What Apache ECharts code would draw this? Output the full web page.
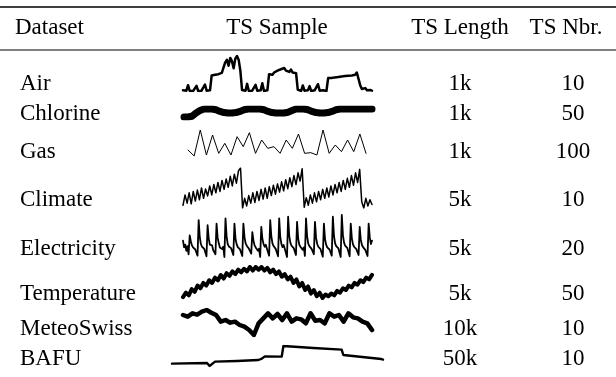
<!DOCTYPE html>
<html>
<head>
<meta charset="utf-8">
<script src="https://cdn.jsdelivr.net/npm/echarts@6/dist/echarts.min.js"></script>
<style>
  html, body { margin: 0; padding: 0; background: #fff; }
  #main { width: 616px; height: 377px; }
</style>
</head>
<body>
<div id="main"></div>
<script>
// table columns
var headers = ['Dataset', 'TS Sample', 'TS Length', 'TS Nbr.'];
var datasets = ['Air', 'Chlorine', 'Gas', 'Climate', 'Electricity', 'Temperature', 'MeteoSwiss', 'BAFU'];
var tsLength = ['1k', '1k', '1k', '5k', '5k', '5k', '10k', '50k'];
var tsNbr = ['10', '50', '100', '10', '20', '50', '10', '10'];

// sample series
var air = [2, 0, 1, 18, 0, 2, 0, 1, 16, 0, 2, 1, 0, 20, 1, 0, 2,
  48, 44, 50, 46, 52, 53, 56, 72, 88, 96, 78, 102, 92, 70, 100, 108, 96, 62,
  3, 0, 1, 22, 0, 2, 1, 0, 19, 1, 0, 2, 24, 0, 1, 2,
  52, 56, 50, 57, 56, 63, 58, 67, 62, 71, 63, 69, 59, 66, 57, 63, 55,
  4, 1, 0, 17, 1, 0, 2, 15, 0, 1, 2, 0, 21, 1, 0, 2, 1, 0,
  40, 44, 40, 46, 42, 47, 43, 48, 45, 50, 46, 51, 47, 52, 48, 54, 50, 57, 52,
  18, 6, 3, 9, 2, 5, 3, 1];
var chlorine = [0, 0, 2, 10, 16, 20, 20, 20, 18, 14, 11, 10, 10, 11, 14, 18, 20, 20, 20, 20, 18, 14, 11, 10,
  10, 10, 12, 16, 20, 20, 20, 18, 14, 11, 10, 10, 11, 14, 18, 20, 20, 20, 20, 20, 20, 20, 20, 20];
var gas = [20, 2, 80, 5, 65, 10, 40, 5, 60, 30, 72, 10, 50, 25, 30, 10, 50, 25, 68, 10, 12, 5, 80, 10, 35, 15, 50, 15, 68, 10];
var climate = [10, 40, 16, 46, 14, 50, 22, 54, 26, 60, 30, 57, 37, 66, 40, 70, 46, 76, 50, 82, 56, 86, 62, 94, 66, 100, 74, 110, 118,
  2, 30,
  8, 38, 16, 46, 18, 50, 24, 56, 28, 60, 30, 64, 38, 68, 42, 72, 48, 78, 52, 84, 58, 90, 64, 96, 70, 104, 80, 116,
  4, 32,
  10, 40, 16, 46, 20, 50, 26, 56, 30, 60, 34, 66, 40, 70, 46, 76, 50, 82, 56, 88, 62, 96, 68, 104, 76, 114,
  20, 2, 30, 8, 26, 12];
var electricity = [60, 40, 48, 30, 44, 20,
  75, 58, 46, 40, 44, 34, 38, 16,
  120, 70, 50, 42, 47, 36, 40, 14,
  105, 66, 48, 44, 46, 32, 36, 20,
  110, 68, 52, 40, 45, 35, 42, 12,
  125, 72, 50, 43, 48, 38, 40, 18,
  110, 64, 49, 41, 46, 34, 39, 15,
  110, 70, 52, 45, 47, 36, 41, 22,
  85, 60, 46, 40, 44, 30, 36, 12,
  100, 66, 50, 42, 48, 37, 42, 16,
  120, 72, 52, 44, 46, 35, 40, 14,
  125, 70, 50, 41, 47, 36, 38, 12,
  130, 74, 54, 45, 49, 38, 42, 18,
  115, 66, 48, 42, 45, 33, 40, 15,
  125, 72, 51, 44, 48, 36, 41, 20,
  115, 68, 50, 42, 46, 35, 39, 13,
  110, 64, 48, 40, 45, 34, 38, 16,
  130, 74, 52, 44, 48, 37, 42, 12,
  135, 76, 54, 45, 49, 38, 40, 14,
  110, 66, 49, 42, 46, 35, 39, 18,
  100, 62, 47, 41, 45, 33, 37, 15,
  110, 70, 50, 60];
var temperature = [1, 6, 3, 10, 7, 14, 11, 17, 14, 20, 17, 23, 20, 26, 22, 28, 25, 30, 27, 32, 29, 33, 30, 35, 31, 35,
  32, 35, 31, 34, 29, 32, 27, 30, 24, 27, 21, 24, 17, 21, 13, 17, 9, 13, 5, 9, 2, 6, 0, 4,
  2, 5, 3, 8, 6, 11, 9, 14, 12, 17, 15, 20, 18, 23, 21, 26];
var meteoSwiss = [65, 60, 70, 66, 75, 80, 72, 65, 45, 50, 42, 45, 35, 30, 20, 5, 40, 55, 70, 55, 68,
  50, 70, 45, 55, 52, 40, 70, 48, 50, 40, 70, 60, 65, 45, 70, 58, 55, 45, 40, 20];
// BAFU: [thousands of samples, value]
var bafu = [[0, 10], [8.3, 12], [8.9, 3], [10.2, 16], [15.4, 18], [20.5, 21], [21.3, 25], [22, 32], [26, 31],
  [26.4, 63], [33.5, 57], [40.2, 52], [40.6, 36], [49.6, 24], [50, 22]];

var samples = [air, chlorine, gas, climate, electricity, temperature, meteoSwiss, bafu];

// layout (pixels)
var rowY = [84, 114, 152, 200, 249, 294, 329, 359];
var boxes = [ // left, top, width, height, lineWidth
  [183, 56, 189, 35, 2.5],
  [184, 109, 188, 8, 7],
  [188, 130, 178, 26, 1],
  [183, 168, 189, 40, 1.5],
  [183, 215, 189, 42, 1.8],
  [183, 267, 189, 31, 4],
  [183, 310, 189, 25, 4.5],
  [172, 346, 211, 20, 2.4]
];
var colX = [20, 277, 460, 573];
var font = '"Liberation Serif", "DejaVu Serif", serif';
var fs = 23;

var grid = [], xAxis = [], yAxis = [], series = [];
samples.forEach(function (s, i) {
  var b = boxes[i];
  var pts = Array.isArray(s[0]) ? s : s.map(function (v, k) { return [k, v]; });
  grid.push({ left: b[0], top: b[1], width: b[2], height: b[3], show: false });
  xAxis.push({ type: 'value', gridIndex: i, min: 'dataMin', max: 'dataMax', show: false });
  yAxis.push({ type: 'value', gridIndex: i, min: 'dataMin', max: 'dataMax', show: false, scale: true });
  series.push({
    type: 'line', xAxisIndex: i, yAxisIndex: i, data: pts, showSymbol: false, silent: true,
    lineStyle: { color: '#000', width: b[4], join: 'round', cap: 'round' }
  });
});

var graphic = [
  { type: 'line', shape: { x1: 0, y1: 7, x2: 616, y2: 7 }, style: { stroke: '#000', lineWidth: 1.5 } },
  { type: 'line', shape: { x1: 0, y1: 50, x2: 616, y2: 50 }, style: { stroke: '#000', lineWidth: 1 } }
];
var headX = [15, 277, 460, 566];
headers.forEach(function (h, j) {
  graphic.push({
    type: 'text', x: headX[j], y: 28,
    style: { text: h, font: fs + 'px ' + font, fill: '#000', textAlign: j === 0 ? 'left' : 'center', textVerticalAlign: 'middle' }
  });
});
datasets.forEach(function (d, i) {
  [d, null, tsLength[i], tsNbr[i]].forEach(function (t, j) {
    if (t === null) return;
    graphic.push({
      type: 'text', x: colX[j], y: rowY[i],
      style: { text: t, font: fs + 'px ' + font, fill: '#000', textAlign: j === 0 ? 'left' : 'center', textVerticalAlign: 'middle' }
    });
  });
});

var chart = echarts.init(document.getElementById('main'));
chart.setOption({
  animation: false,
  backgroundColor: '#fff',
  grid: grid,
  xAxis: xAxis,
  yAxis: yAxis,
  series: series,
  graphic: graphic
});
</script>
</body>
</html>
